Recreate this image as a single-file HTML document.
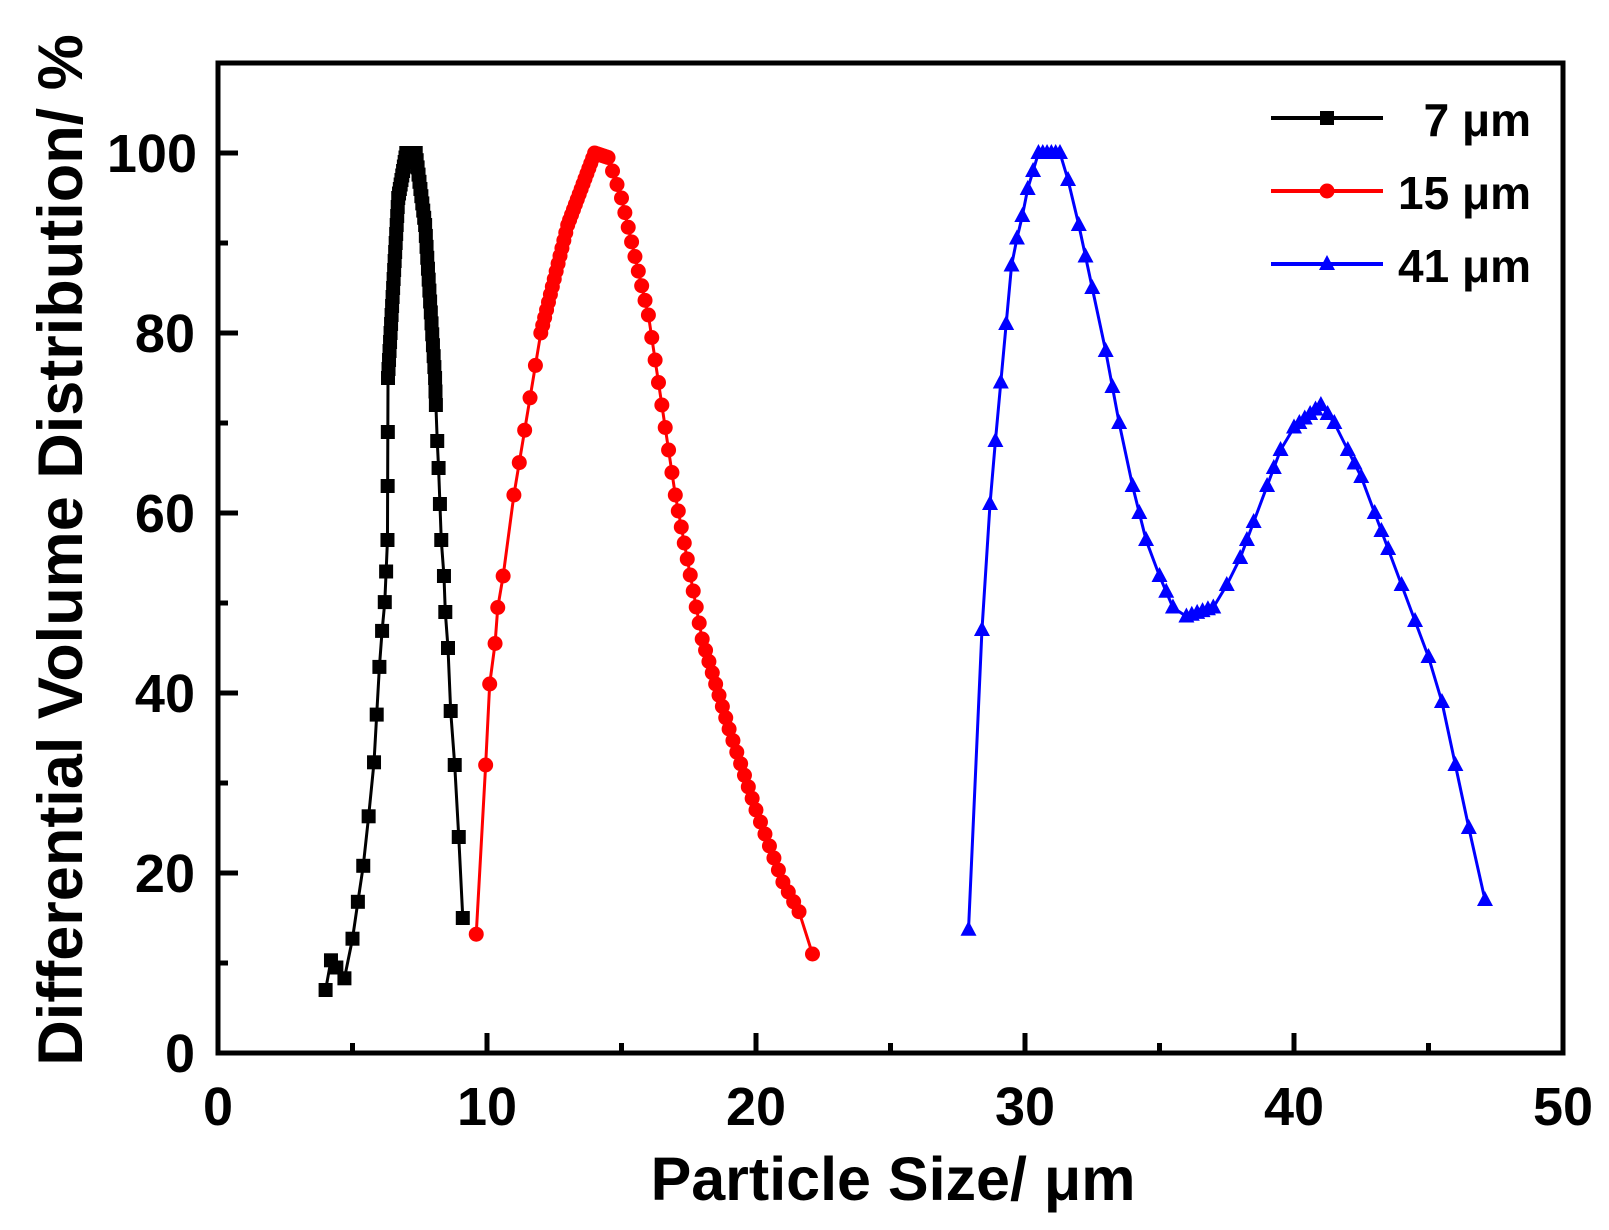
<!DOCTYPE html>
<html><head><meta charset="utf-8"><style>
html,body{margin:0;padding:0;background:#fff;}
svg{display:block;}
text{font-family:"Liberation Sans",Arial,sans-serif;font-weight:bold;}
</style></head><body>
<svg id="s" width="1609" height="1230" viewBox="0 0 1609 1230" xmlns="http://www.w3.org/2000/svg">
<rect x="218" y="63" width="1345" height="990" fill="none" stroke="#000" stroke-width="5"/>
<g id="ticks" stroke="#000" stroke-width="5"></g>
<g font-size="54" text-anchor="middle" id="xl">
<text x="218" y="1125">0</text><text x="487" y="1125">10</text><text x="756" y="1125">20</text><text x="1025" y="1125">30</text><text x="1294" y="1125">40</text><text x="1563" y="1125">50</text>
</g>
<g font-size="54" text-anchor="end">
<text x="195" y="1072">0</text><text x="195" y="892">20</text><text x="195" y="712">40</text><text x="195" y="532">60</text><text x="195" y="352">80</text><text x="197" y="172">100</text>
</g>
<text x="893" y="1200" font-size="61" text-anchor="middle">Particle Size/ μm</text>
<text transform="translate(82,550) rotate(-90)" font-size="63" text-anchor="middle">Differential Volume Distribution/ %</text>
<g id="data"></g>
<g>
<line x1="1271" y1="118" x2="1383" y2="118" stroke="#000" stroke-width="4"/><rect x="1320" y="111" width="14" height="14" fill="#000"/>
<line x1="1271" y1="191" x2="1383" y2="191" stroke="red" stroke-width="4"/><circle cx="1327" cy="191" r="7.5" fill="red"/>
<line x1="1271" y1="264" x2="1383" y2="264" stroke="blue" stroke-width="4"/><polygon points="1327,255 1335,270 1319,270" fill="blue"/>
<g font-size="46" text-anchor="end"><text x="1531" y="136">7 μm</text><text x="1531" y="209">15 μm</text><text x="1531" y="282">41 μm</text></g>
</g>
</svg>
<script>
var NS="http://www.w3.org/2000/svg";
function X(v){return 218+v*26.9;}function Y(v){return 1053-v*9;}
var t=document.getElementById("ticks");
function ln(a,b,c,d){var l=document.createElementNS(NS,"line");l.setAttribute("x1",a);l.setAttribute("y1",b);l.setAttribute("x2",c);l.setAttribute("y2",d);t.appendChild(l);}
for(var i=0;i<=10;i++){var x=X(i*5);ln(x,1053,x,i%2?1043:1033);}
for(var j=0;j<=11;j++){var y=Y(j*10);ln(218,y,j%2?228:238,y);}
function dens(p,n){var o=[];for(var i=0;i<p.length-1;i++){var k=(p[i][2]||n);for(var s=0;s<k;s++){var f=s/k;o.push([p[i][0]+(p[i+1][0]-p[i][0])*f,p[i][1]+(p[i+1][1]-p[i][1])*f]);}}o.push(p[p.length-1]);return o;}
var black=[[4.0,7],[4.2,10.3],[4.4,9.5],[4.7,8.3],[5.0,12.7],[5.2,16.8],[5.4,20.8],[5.6,26.3],[5.8,32.3],[5.9,37.6],[6.0,42.9],[6.1,46.9],[6.2,50.1],[6.25,53.5],[6.3,57,3],[6.32,75,20],[6.7,95,10],[7.0,100,5],[7.35,100,10],[7.7,92,14],[8.07,75,2],[8.1,72],[8.15,68],[8.2,65],[8.25,61],[8.3,57],[8.4,53],[8.45,49],[8.55,45],[8.65,38],[8.8,32],[8.95,24],[9.1,15]];
var red=[[9.6,13.2],[9.95,32],[10.1,41],[10.3,45.5],[10.4,49.5],[10.6,53],[11,62,5],[12,80,14],[13,92,14],[14.0,100,6],[14.5,99.5,3],[15,95,8],[16,82,8],[17,62,9],[18,46,8],[19,36,7],[20,27,6],[21,19,3],[21.6,15.7,1],[22.1,11]];
var blue=[[27.9,13.7],[28.4,47],[28.7,61],[28.9,68],[29.1,74.5],[29.3,81],[29.5,87.5],[29.7,90.5],[29.9,93],[30.1,96],[30.3,98],[30.5,100,5],[31.3,100],[31.6,97],[32,92,2],[32.5,85],[33,78,2],[33.5,70],[34,63,2],[34.5,57],[35,53,2],[35.5,49.5],[36,48.5,5],[37,49.5],[37.5,52],[38,55,2],[38.5,59],[39,63,2],[39.5,67],[40,69.5,5],[41,72,2],[41.5,70],[42,67,2],[42.5,64],[43,60,2],[43.5,56],[44,52],[44.5,48],[45,44],[45.5,39],[46,32],[46.5,25],[47.1,17]];
var g=document.getElementById("data");
function series(p,col,mk){var pl=document.createElementNS(NS,"polyline");pl.setAttribute("points",p.map(function(q){return X(q[0])+","+Y(q[1]);}).join(" "));pl.setAttribute("fill","none");pl.setAttribute("stroke",col);pl.setAttribute("stroke-width","3");g.appendChild(pl);
var d=dens(p,1);d.forEach(function(q){var x=X(q[0]),y=Y(q[1]),e;
if(mk=="s"){e=document.createElementNS(NS,"rect");e.setAttribute("x",x-7);e.setAttribute("y",y-7);e.setAttribute("width",14);e.setAttribute("height",14);}
else if(mk=="c"){e=document.createElementNS(NS,"circle");e.setAttribute("cx",x);e.setAttribute("cy",y);e.setAttribute("r",7.5);}
else{e=document.createElementNS(NS,"polygon");e.setAttribute("points",x+","+(y-9)+" "+(x+8)+","+(y+6)+" "+(x-8)+","+(y+6));}
e.setAttribute("fill",col);g.appendChild(e);});}
series(black,"#000","s");series(red,"red","c");series(blue,"blue","t");
</script>
</body></html>
